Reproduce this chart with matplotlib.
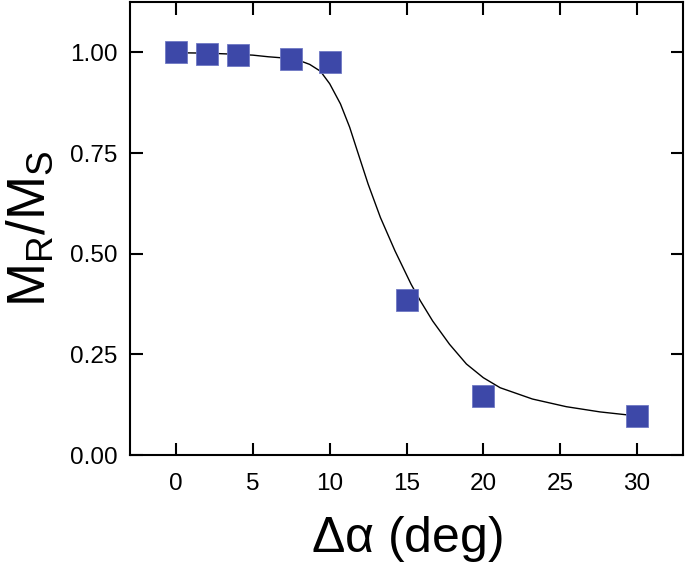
import numpy as np
import matplotlib.pyplot as plt

plt.rcParams['font.family'] = ['Liberation Sans', 'DejaVu Sans']
plt.rcParams['mathtext.fontset'] = 'custom'
plt.rcParams['mathtext.rm'] = 'Liberation Sans'
plt.rcParams['mathtext.it'] = 'Liberation Sans'

# measured points
angle = [0, 2, 4, 7.5, 10, 15, 20, 30]
ratio = [1.00, 0.997, 0.994, 0.984, 0.976, 0.386, 0.146, 0.096]

# fitted curve
fit_x = [0, 2, 4, 5, 6, 7, 8, 8.7, 9.4, 10.0, 10.7, 11.3, 11.8, 12.5, 13.3,
         14.25, 15.3, 15.9, 16.7, 17.8, 18.9, 20.0, 21.1, 23.2, 25.4, 27.6, 30]
fit_y = [0.999, 0.998, 0.995, 0.993, 0.989, 0.986, 0.980, 0.970, 0.953, 0.922,
         0.872, 0.814, 0.755, 0.673, 0.590, 0.507, 0.424, 0.383, 0.333, 0.275,
         0.226, 0.192, 0.167, 0.139, 0.120, 0.107, 0.097]

xticks = [0, 5, 10, 15, 20, 25, 30]
yticks = [0.00, 0.25, 0.50, 0.75, 1.00]

fig = plt.figure(figsize=(6.85, 5.68), dpi=100)
ax = fig.add_axes([130/685, 113/568, 553/685, 453/568])

ax.plot(fit_x, fit_y, color='black', lw=1.0, zorder=2)
ax.plot(angle, ratio, 's', ms=15.5, color='#3d48a8', mec='#6f78c4', mew=0.6,
        zorder=3)

ax.set_xlim(-3, 33)
ax.set_ylim(0, 1.125)
ax.set_xticks(xticks)
ax.set_yticks(yticks)
ax.set_yticklabels(['%.2f' % v for v in yticks])

ax.tick_params(direction='in', length=9, width=1.5, labelsize=17.5,
               top=True, right=True, pad=9)
ax.tick_params(axis='x', pad=13)
for s in ax.spines.values():
    s.set_linewidth(1.5)

ax.set_xlabel(r'$\Delta\alpha$ (deg)', fontsize=36, labelpad=14)
ax.set_ylabel(r'M$_\mathrm{R}$/M$_\mathrm{S}$', fontsize=38, labelpad=10)

fig.savefig('out.png', dpi=100)
